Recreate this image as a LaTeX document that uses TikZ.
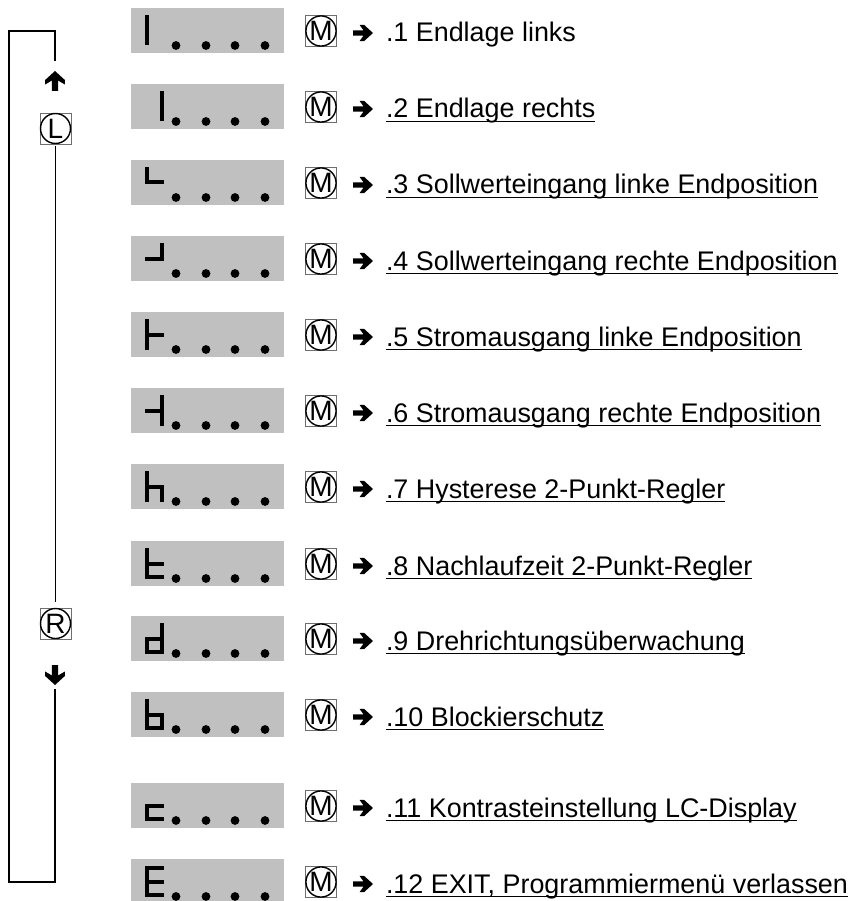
\documentclass[tikz,border=0pt]{standalone}
\usepackage{fontspec}
\setmainfont{Liberation Sans}
\definecolor{dispgray}{RGB}{192,192,192}
\definecolor{boxgray}{RGB}{110,110,110}
\tikzset{
  disp/.style={fill=dispgray,draw=none,minimum width=153pt,minimum height=45pt,inner sep=0pt,outer sep=0pt},
  seg/.style={line width=4pt,line cap=rect,line join=miter},
  msq/.style={draw=boxgray,line width=0.8pt,minimum width=31pt,minimum height=31pt,inner sep=0pt},
  mcirc/.style={circle,draw=black,line width=1.4pt,minimum size=30pt,inner sep=0pt,font=\fontsize{28}{28}\selectfont},
  txt/.style={anchor=base west,inner sep=0pt,outer sep=0pt,font=\fontsize{26.9}{30}\selectfont},
  ul/.style={line width=1.9pt},
  brk/.style={line width=1.7pt},
  fatarrow/.pic={\fill (0,-2.6) -- (10.5,-2.6) -- (6.5,-8.2) -- (11,-8.2) -- (20,0) -- (11,8.2) -- (6.5,8.2) -- (10.5,2.6) -- (0,2.6) -- cycle;}
}
\newcommand\disprow[5]{%
  \node[disp,anchor=north west] (d#1) at (131,#2) {};
  \begin{scope}[shift={(131,#2)}]
    \draw[seg] #3;
    \foreach \dx in {45,75,104,134} \fill (\dx,37.5) circle (4.4pt);
  \end{scope}
  \node[msq] (m#1) at (321,#2+23) {};
  \node[mcirc] (mc#1) at (m#1) {M};
  \pic at (353,#2+25) {fatarrow};
  \node[txt] (t#1) at (386,#2+34) {#4};
  \ifnum#5=1 \draw[ul] ([yshift=-3.5pt]t#1.base west) -- ([yshift=-3.5pt]t#1.base east);\fi
}
\begin{document}
\begin{tikzpicture}[x=1pt,y=-1pt]
\useasboundingbox (0,0) rectangle (850,901);
% bracket on the left
\node[msq] (lsq) at (55.5,128.5) {};
\node[mcirc] (lc) at (lsq) {L};
\node[msq] (rsq) at (55.5,623.5) {};
\node[mcirc] (rc) at (rsq) {R};
\pic[rotate=90,yscale=1.2] at (55,91) {fatarrow};
\pic[rotate=-90,yscale=1.2] at (55,665) {fatarrow};
\coordinate (topend) at (55,61);
\coordinate (botstart) at (55,689);
\draw[brk] (topend) -- (55,31) -- (9,31) -- (9,882) -- (55,882) -- (botstart);
\draw[brk] ([yshift=-2pt]lsq.south) -- ([yshift=6pt]rsq.north);
% rows
\disprow{1}{8}{(16,9)--(16,35.5)}{.1 Endlage links}{0}
\disprow{2}{84}{(30.5,9)--(30.5,35.5)}{.2 Endlage rechts}{1}
\disprow{3}{160}{(16,9)--(16,22.5)--(30.5,22.5)}{.3 Sollwerteingang linke Endposition}{1}
\disprow{4}{236}{(30.5,9)--(30.5,22.5)--(16,22.5)}{.4 Sollwerteingang rechte Endposition}{1}
\disprow{5}{312}{(16,9)--(16,35.5) (16,22.5)--(30.5,22.5)}{.5 Stromausgang linke Endposition}{1}
\disprow{6}{388}{(30.5,9)--(30.5,35.5) (30.5,22.5)--(16,22.5)}{.6 Stromausgang rechte Endposition}{1}
\disprow{7}{464}{(16,9)--(16,35.5) (16,22.5)--(30.5,22.5)--(30.5,35.5)}{.7 Hysterese 2-Punkt-Regler}{1}
\disprow{8}{541}{(16,9)--(16,35.5)--(30.5,35.5) (16,22.5)--(30.5,22.5)}{.8 Nachlaufzeit 2-Punkt-Regler}{1}
\disprow{9}{616}{(30.5,9)--(30.5,35.5)--(16,35.5)--(16,22.5)--(30.5,22.5)}{.9 Drehrichtungsüberwachung}{1}
\disprow{10}{692}{(16,9)--(16,35.5)--(30.5,35.5)--(30.5,22.5)--(16,22.5)}{.10 Blockierschutz}{1}
\disprow{11}{783}{(30.5,22.5)--(16,22.5)--(16,35.5)--(30.5,35.5)}{.11 Kontrasteinstellung LC-Display}{1}
\disprow{12}{859}{(30.5,9)--(16,9)--(16,35.5)--(30.5,35.5) (16,22.5)--(30.5,22.5)}{.12 EXIT, Programmiermenü verlassen}{1}
\end{tikzpicture}
\end{document}
